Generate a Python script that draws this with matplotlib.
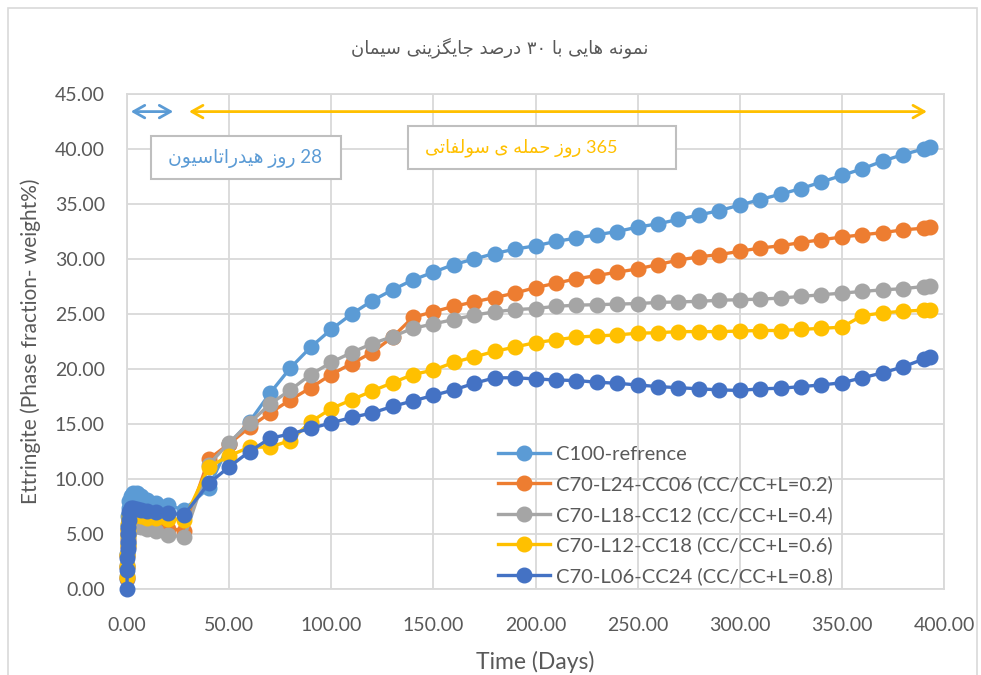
import matplotlib
matplotlib.use("Agg")
import matplotlib.pyplot as plt
from matplotlib.patches import Rectangle

# ---- data ----
days = [0, 0.1, 0.2, 0.3, 0.4, 0.5, 0.6, 0.8, 1, 2, 3, 5, 7, 10, 14, 20, 28,
        40, 50, 60, 70, 80, 90, 100, 110, 120, 130, 140, 150, 160, 170, 180, 190,
        200, 210, 220, 230, 240, 250, 260, 270, 280, 290, 300, 310, 320, 330, 340,
        350, 360, 370, 380, 390, 393]

c100 = [0.9, 2.0, 3.2, 4.2, 5.0, 5.8, 6.6, 7.4, 8.0, 8.5, 8.7, 8.7, 8.5, 8.1, 7.8, 7.6, 7.2,
        9.2, 13.2, 15.2, 17.8, 20.1, 22.0, 23.6, 25.0, 26.2, 27.2, 28.1, 28.8, 29.5, 30.0, 30.5, 30.9,
        31.2, 31.6, 31.9, 32.2, 32.5, 32.9, 33.2, 33.6, 34.0, 34.4, 34.9, 35.4, 35.9, 36.4, 37.0,
        37.6, 38.2, 38.9, 39.5, 40.0, 40.2]
c70_cc06 = [1.0, 2.0, 3.0, 3.8, 4.5, 5.0, 5.5, 6.0, 6.3, 6.4, 6.3, 6.2, 6.1, 5.9, 5.6, 5.5, 5.3,
            11.8, 13.2, 14.7, 16.0, 17.2, 18.3, 19.5, 20.5, 21.5, 22.9, 24.7, 25.2, 25.7, 26.1, 26.5, 26.9,
            27.4, 27.8, 28.2, 28.5, 28.8, 29.1, 29.5, 29.9, 30.2, 30.4, 30.7, 31.0, 31.2, 31.5, 31.75,
            32.0, 32.2, 32.4, 32.65, 32.8, 32.9]
c70_cc12 = [1.2, 2.2, 3.2, 4.0, 4.6, 5.0, 5.4, 5.7, 5.9, 5.9, 5.8, 5.7, 5.6, 5.5, 5.3, 4.95, 4.7,
            11.3, 13.3, 15.1, 16.8, 18.1, 19.5, 20.6, 21.5, 22.3, 22.95, 23.7, 24.1, 24.5, 24.9, 25.2, 25.4,
            25.5, 25.7, 25.8, 25.85, 25.9, 25.95, 26.05, 26.1, 26.15, 26.25, 26.3, 26.35, 26.45, 26.6, 26.75,
            26.9, 27.05, 27.2, 27.3, 27.5, 27.55]
c70_cc18 = [1.1, 2.1, 3.1, 4.0, 4.8, 5.4, 5.9, 6.3, 6.6, 6.7, 6.7, 6.7, 6.6, 6.5, 6.5, 6.4, 6.3,
            11.1, 12.1, 12.9, 12.9, 13.5, 15.2, 16.4, 17.2, 18.0, 18.75, 19.5, 19.9, 20.6, 21.1, 21.6, 22.0,
            22.4, 22.65, 22.9, 23.0, 23.1, 23.25, 23.3, 23.4, 23.4, 23.4, 23.45, 23.5, 23.5, 23.6, 23.7,
            23.8, 24.85, 25.1, 25.25, 25.35, 25.4]
c70_cc24 = [0.0, 1.7, 2.8, 3.6, 4.3, 5.0, 5.6, 6.3, 7.0, 7.4, 7.4, 7.3, 7.2, 7.1, 7.0, 6.9, 6.75,
            9.6, 11.1, 12.5, 13.7, 14.1, 14.6, 15.1, 15.6, 16.0, 16.6, 17.1, 17.6, 18.1, 18.7, 19.2, 19.2,
            19.1, 19.0, 18.95, 18.8, 18.7, 18.55, 18.4, 18.3, 18.2, 18.1, 18.05, 18.2, 18.25, 18.4, 18.55,
            18.75, 19.2, 19.65, 20.2, 20.9, 21.1]

series = [
    ("C100-refrence", c100, "#5B9BD5"),
    ("C70-L24-CC06 (CC/CC+L=0.2)", c70_cc06, "#ED7D31"),
    ("C70-L18-CC12 (CC/CC+L=0.4)", c70_cc12, "#A5A5A5"),
    ("C70-L12-CC18 (CC/CC+L=0.6)", c70_cc18, "#FFC000"),
    ("C70-L06-CC24 (CC/CC+L=0.8)", c70_cc24, "#4472C4"),
]

title_txt = "نمونه هایی با ۳۰ درصد جایگزینی سیمان"
hyd_txt = "28 روز هیدراتاسیون"
sulf_txt = "365 روز حمله ی سولفاتی"
hyd_span = (0.5, 24)
sulf_span = (29, 393)

# ---- very small Persian shaper (no bidi libs offline) ----
# (isolated, final, initial, medial) ; right-joining letters have only 2 forms
FORMS = {
    "ا": ("\uFE8D", "\uFE8E"), "د": ("\uFEA9", "\uFEAA"), "ر": ("\uFEAD", "\uFEAE"),
    "ز": ("\uFEAF", "\uFEB0"), "و": ("\uFEED", "\uFEEE"),
    "ب": ("\uFE8F", "\uFE90", "\uFE91", "\uFE92"), "ت": ("\uFE95", "\uFE96", "\uFE97", "\uFE98"),
    "ج": ("\uFE9D", "\uFE9E", "\uFE9F", "\uFEA0"), "ح": ("\uFEA1", "\uFEA2", "\uFEA3", "\uFEA4"),
    "س": ("\uFEB1", "\uFEB2", "\uFEB3", "\uFEB4"), "ص": ("\uFEB9", "\uFEBA", "\uFEBB", "\uFEBC"),
    "ف": ("\uFED1", "\uFED2", "\uFED3", "\uFED4"), "ل": ("\uFEDD", "\uFEDE", "\uFEDF", "\uFEE0"),
    "م": ("\uFEE1", "\uFEE2", "\uFEE3", "\uFEE4"), "ن": ("\uFEE5", "\uFEE6", "\uFEE7", "\uFEE8"),
    "ه": ("\uFEE9", "\uFEEA", "\uFEEB", "\uFEEC"), "ی": ("\uFEEF", "\uFEF0", "\uFEF3", "\uFEF4"),
    "گ": ("\uFB92", "\uFB93", "\uFB94", "\uFB95"),
}


def shape_word(w):
    if not any(c in FORMS for c in w):
        return w
    out = []
    for i, c in enumerate(w):
        f = FORMS.get(c)
        if f is None:
            out.append(c)
            continue
        prev = w[i - 1] if i > 0 else None
        nxt = w[i + 1] if i + 1 < len(w) else None
        join_prev = prev in FORMS and len(FORMS[prev]) == 4
        join_next = nxt in FORMS and len(f) == 4
        if join_prev and join_next:
            out.append(f[3])
        elif join_prev:
            out.append(f[1])
        elif join_next:
            out.append(f[2])
        else:
            out.append(f[0])
    return "".join(reversed(out))


def fa(s):
    return " ".join(shape_word(w) for w in reversed(s.split(" ")))


FONT = ["Lato", "DejaVu Sans"]
plt.rcParams["font.family"] = FONT
GREY = "#595959"

fig = plt.figure(figsize=(9.81, 6.75), dpi=100)
ax = fig.add_axes([127 / 981, 86 / 675, 817 / 981, 495 / 675])

for name, vals, col in series:
    ax.plot(days, vals, "-o", color=col, lw=2.4, ms=10.5, label=name, clip_on=False, zorder=3)

ax.set_xlim(0, 400)
ax.set_ylim(0, 45)
ax.set_xticks(range(0, 401, 50))
ax.set_yticks(range(0, 46, 5))
ax.xaxis.set_major_formatter(matplotlib.ticker.FormatStrFormatter("%.2f"))
ax.yaxis.set_major_formatter(matplotlib.ticker.FormatStrFormatter("%.2f"))
ax.tick_params(length=0, labelsize=14, labelcolor=GREY)
ax.tick_params(axis="x", pad=20)
ax.tick_params(axis="y", pad=16)
ax.grid(True, color="#D9D9D9", lw=1.3, zorder=0)
ax.set_axisbelow(True)
for sp in ax.spines.values():
    sp.set_color("#D9D9D9")
    sp.set_linewidth(1.3)

ax.set_xlabel("Time (Days)", fontsize=16.5, color=GREY, labelpad=12)
ax.set_ylabel("Ettringite (Phase fraction- weight%)", fontsize=15, color=GREY, labelpad=10)

fig.text(500 / 981, 1 - 48 / 675, fa(title_txt), ha="center", va="center",
         fontsize=13, color=GREY, family=["DejaVu Sans"])

# arrows
ax.annotate("", xy=(hyd_span[0], 43.4), xytext=(hyd_span[1], 43.4),
            arrowprops=dict(arrowstyle="<->,head_length=0.8,head_width=0.45", color="#5B9BD5", lw=2),
            annotation_clip=False)
ax.annotate("", xy=(sulf_span[1], 43.4), xytext=(sulf_span[0], 43.4),
            arrowprops=dict(arrowstyle="<->,head_length=0.8,head_width=0.45", color="#FFC000", lw=2),
            annotation_clip=False)

# text boxes
fig.patches.append(Rectangle((151 / 981, 1 - 179 / 675), 190 / 981, 43 / 675,
                             transform=fig.transFigure, fc="white", ec="#BFBFBF", lw=1.5, zorder=5))
fig.text(245 / 981, 1 - 158 / 675, fa(hyd_txt), ha="center", va="center", fontsize=13.5,
         color="#5B9BD5", zorder=6)
fig.patches.append(Rectangle((408 / 981, 1 - 169 / 675), 268 / 981, 43 / 675,
                             transform=fig.transFigure, fc="white", ec="#BFBFBF", lw=1.5, zorder=5))
fig.text(521 / 981, 1 - 148 / 675, fa(sulf_txt), ha="center", va="center", fontsize=13,
         color="#FFC000", zorder=6)

leg = ax.legend(loc="upper left", bbox_to_anchor=(490 / 981, 1 - 438 / 675),
                bbox_transform=fig.transFigure, frameon=False, fontsize=14.5,
                handlelength=2.6, handletextpad=0.3, labelspacing=0.62, borderaxespad=0)
for t in leg.get_texts():
    t.set_color(GREY)

# outer chart border
fig.patches.append(Rectangle((8 / 981, -0.05), 969 / 981, 1.05 - 8 / 675,
                             transform=fig.transFigure, fill=False, ec="#D9D9D9", lw=1.2))

fig.savefig("out.png", dpi=100)
